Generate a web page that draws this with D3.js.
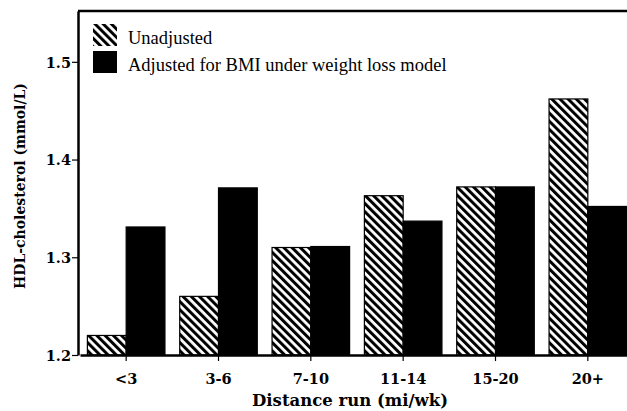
<!DOCTYPE html>
<html>
<head>
<meta charset="utf-8">
<script src="https://cdn.jsdelivr.net/npm/d3@7"></script>
<style>
  body { margin: 0; background: #fff; }
  svg { display: block; }
</style>
</head>
<body>
<div id="chart"></div>
<script>
// data
var categories = ["<3", "3-6", "7-10", "11-14", "15-20", "20+"];
var seriesNames = ["Unadjusted", "Adjusted for BMI under weight loss model"];
var unadjusted = [1.22, 1.26, 1.31, 1.363, 1.372, 1.462];
var adjusted   = [1.331, 1.371, 1.311, 1.337, 1.372, 1.352];
var yTicks = [1.2, 1.3, 1.4, 1.5];

var W = 627, H = 411;
var margin = {top: 11, left: 78, bottom: 56};
var axisFont = "'DejaVu Serif', serif";
var legendFont = "'Liberation Serif', serif";

var svg = d3.select("#chart").append("svg")
    .attr("width", W)
    .attr("height", H);

// hatch pattern for the unadjusted bars (\\\ stripes)
var defs = svg.append("defs");
var pat = defs.append("pattern")
    .attr("id", "hatch")
    .attr("patternUnits", "userSpaceOnUse")
    .attr("width", 5.8)
    .attr("height", 10)
    .attr("patternTransform", "rotate(-45)");
pat.append("rect").attr("width", 5.8).attr("height", 10).attr("fill", "#fff");
pat.append("rect").attr("width", 3).attr("height", 10).attr("fill", "#000");

var y = d3.scaleLinear()
    .domain([1.2, 1.552])
    .range([H - margin.bottom, margin.top]);

// plot runs past the right edge of the picture, like the scan
var x0 = d3.scaleBand()
    .domain(categories)
    .range([80, 634])
    .paddingInner(0.16)
    .paddingOuter(0.08);

var x1 = d3.scaleBand()
    .domain([0, 1])
    .range([0, x0.bandwidth()]);

var rows = categories.map(function(c, i) {
  return {cat: c, vals: [unadjusted[i], adjusted[i]]};
});

// bars
var groups = svg.selectAll(".grp")
    .data(rows)
    .enter().append("g")
    .attr("class", "grp")
    .attr("transform", function(d) { return "translate(" + x0(d.cat) + ",0)"; });

groups.selectAll("rect")
    .data(function(d) { return d.vals; })
    .enter().append("rect")
    .attr("x", function(d, i) { return x1(i); })
    .attr("y", function(d) { return y(d); })
    .attr("width", x1.bandwidth())
    .attr("height", function(d) { return y(1.2) - y(d); })
    .attr("fill", function(d, i) { return i === 0 ? "url(#hatch)" : "#000"; })
    .attr("stroke", "#000")
    .attr("stroke-width", 1.2);

// frame: top border + axes
svg.append("line")
    .attr("x1", margin.left).attr("x2", W)
    .attr("y1", margin.top).attr("y2", margin.top)
    .attr("stroke", "#000").attr("stroke-width", 2.5);

var yAxis = svg.append("g")
    .attr("transform", "translate(" + margin.left + ",0)")
    .call(d3.axisLeft(y).tickValues(yTicks).tickFormat(d3.format(".1f")).tickSize(6).tickSizeOuter(0));
yAxis.select(".domain").attr("stroke-width", 2.5);
yAxis.selectAll(".tick line").attr("stroke-width", 1.2);
yAxis.selectAll("text")
    .attr("x", -7)
    .attr("dy", "0.36em")
    .style("font-family", axisFont)
    .style("font-weight", "bold")
    .style("font-size", "14.5px")
    .attr("fill", "#000");

var xAxis = svg.append("g")
    .attr("transform", "translate(0," + y(1.2) + ")")
    .call(d3.axisBottom(x0).tickSize(6).tickSizeOuter(0));
xAxis.select(".domain").attr("stroke-width", 2.5);
xAxis.selectAll(".tick line").attr("stroke-width", 1.2);
xAxis.selectAll("text")
    .attr("y", 19)
    .attr("dy", "0.71em")
    .style("font-family", axisFont)
    .style("font-weight", "bold")
    .style("font-size", "14.5px")
    .attr("fill", "#000");

// axis titles
svg.append("text")
    .attr("x", 350)
    .attr("y", 406)
    .attr("text-anchor", "middle")
    .style("font-family", axisFont)
    .style("font-weight", "bold")
    .style("font-size", "16.5px")
    .text("Distance run (mi/wk)");

svg.append("text")
    .attr("transform", "translate(25,186) rotate(-90)")
    .attr("text-anchor", "middle")
    .style("font-family", axisFont)
    .style("font-weight", "bold")
    .style("font-size", "14px")
    .text("HDL-cholesterol (mmol/L)");

// legend
var legendRows = svg.append("g").selectAll(".leg")
    .data(seriesNames)
    .enter().append("g")
    .attr("class", "leg")
    .attr("transform", function(d, i) { return "translate(93," + (24 + i * 27) + ")"; });

legendRows.append("rect")
    .attr("width", 24)
    .attr("height", 22)
    .attr("fill", function(d, i) { return i === 0 ? "url(#hatch)" : "#000"; });

legendRows.append("text")
    .attr("x", 35)
    .attr("y", 20)
    .style("font-family", legendFont)
    .style("font-size", "18.5px")
    .text(function(d) { return d; });
</script>
</body>
</html>
